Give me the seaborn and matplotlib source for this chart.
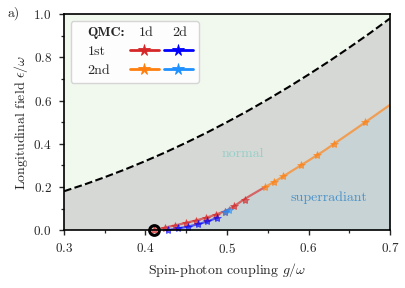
import numpy as np
import pandas as pd
import matplotlib
matplotlib.use("Agg")
import matplotlib.pyplot as plt
import seaborn as sns
from matplotlib.lines import Line2D
from matplotlib.patches import Rectangle
from matplotlib.text import Text
from matplotlib.legend_handler import HandlerBase
from matplotlib.ticker import MultipleLocator

# ---------------- data ----------------
# mean-field normal/superradiant limit (dashed)
dash_g = [0.300, 0.325, 0.350, 0.375, 0.400, 0.425, 0.450, 0.475, 0.500,
          0.525, 0.550, 0.575, 0.600, 0.625, 0.650, 0.675, 0.700]
dash_e = [0.180, 0.211, 0.245, 0.281, 0.320, 0.361, 0.405, 0.451, 0.500,
          0.551, 0.605, 0.661, 0.720, 0.781, 0.845, 0.911, 0.980]

# phase boundary: first-order part (red) and second-order part (orange)
first_g = [0.410, 0.420, 0.430, 0.440, 0.450, 0.460, 0.470, 0.480, 0.490,
           0.500, 0.510, 0.520, 0.530, 0.540, 0.547]
first_e = [0.000, 0.008, 0.017, 0.025, 0.034, 0.043, 0.053, 0.064, 0.077,
           0.092, 0.114, 0.140, 0.163, 0.185, 0.200]
second_g = [0.547, 0.560, 0.580, 0.600, 0.620, 0.640, 0.660, 0.680, 0.700]
second_e = [0.200, 0.228, 0.275, 0.322, 0.370, 0.422, 0.474, 0.527, 0.580]

# QMC points
red_g = [0.410, 0.424, 0.436, 0.450, 0.462, 0.474, 0.487, 0.497, 0.509, 0.522]
red_e = [0.000, 0.011, 0.020, 0.034, 0.044, 0.055, 0.069, 0.085, 0.112, 0.140]
orange_g = [0.547, 0.558, 0.569, 0.591, 0.611, 0.631, 0.669]
orange_e = [0.200, 0.224, 0.250, 0.301, 0.350, 0.399, 0.499]
blue_g = [0.428, 0.440, 0.452, 0.464, 0.476, 0.488]
blue_e = [0.000, 0.008, 0.016, 0.027, 0.040, 0.057]
lblue_g = [0.497, 0.502]
lblue_e = [0.083, 0.091]

crit_g = [0.410]
crit_e = [0.000]

region_labels = ["normal", "superradiant"]
legend_rows = ["QMC:", "1st", "2nd"]
legend_cols = ["1d", "2d"]

# ---------------- style ----------------
FS = 10
TFS = 9.5
sns.set_style("ticks")
plt.rcParams["font.family"] = ["cmr10", "DejaVu Serif"]
plt.rcParams["mathtext.fontset"] = "cm"
plt.rcParams["axes.formatter.use_mathtext"] = True
plt.rcParams["axes.unicode_minus"] = False
plt.rcParams["font.size"] = FS
plt.rcParams["axes.linewidth"] = 1.2
plt.rcParams["axes.edgecolor"] = "black"

fig = plt.figure(figsize=(4.05, 2.88), dpi=100)
ax = fig.add_axes([0.158, 0.201, 0.805, 0.750])

C_GREEN = "#f1f8ee"
C_GRAY = "#d6d8d5"
C_SR = "#c8d3d6"
ax.set_facecolor(C_GRAY)
ax.fill_between(dash_g, dash_e, 1.0, color=C_GREEN, lw=0, zorder=0)
ax.fill_between(first_g, 0, first_e, color=C_SR, lw=0, zorder=0)
ax.fill_between(second_g, 0, second_e, color=C_SR, lw=0, zorder=0)

dash_df = pd.DataFrame({"g": dash_g, "e": dash_e})
sns.lineplot(data=dash_df, x="g", y="e", ax=ax, color="black", lw=1.5,
             linestyle="--", sort=False, zorder=2)

RED, ORANGE, BLUE, LBLUE = "#d62728", "#ff7f0e", "#0000ff", "#1e90ff"
MK = "*"

sns.lineplot(x=first_g, y=first_e, ax=ax, color=RED, alpha=0.65, lw=1.6,
             sort=False, zorder=3)
sns.lineplot(x=second_g, y=second_e, ax=ax, color=ORANGE, alpha=0.65, lw=1.6,
             sort=False, zorder=3)
sns.lineplot(x=blue_g, y=blue_e, ax=ax, color=BLUE, alpha=0.6, lw=1.6,
             sort=False, zorder=3)

mk = dict(marker=MK, ms=6, mew=0.6)
ax.plot(red_g, red_e, ls="none", color=RED, alpha=0.65, zorder=4,
        clip_on=False, **mk)
ax.plot(orange_g, orange_e, ls="none", color=ORANGE, alpha=0.65, zorder=4,
        **mk)
ax.plot(blue_g, blue_e, ls="none", color=BLUE, alpha=0.6, zorder=4,
        clip_on=False, **mk)
ax.plot(lblue_g, lblue_e, ls="-", lw=1.6, color=LBLUE, alpha=0.6, zorder=4,
        **mk)
ax.plot(crit_g, crit_e, ls="none", marker="o", ms=7, mew=2.2, mfc="none",
        mec="black", zorder=6, clip_on=False)

ax.text(0.520, 0.352, region_labels[0], color="#93d0c8", ha="center",
        va="center", fontsize=FS)
ax.text(0.625, 0.150, region_labels[1], color="#4a92c8", ha="center",
        va="center", fontsize=FS)

ax.set_xlim(0.3, 0.7)
ax.set_ylim(0.0, 1.0)
ax.xaxis.set_major_locator(MultipleLocator(0.1))
ax.xaxis.set_minor_locator(MultipleLocator(0.05))
ax.yaxis.set_major_locator(MultipleLocator(0.2))
ax.yaxis.set_minor_locator(MultipleLocator(0.1))
ax.tick_params(which="major", direction="out", length=3.8, width=1.0,
               labelsize=TFS, pad=5)
ax.tick_params(which="minor", direction="out", length=2.5, width=0.9)
for s in ax.spines.values():
    s.set_visible(True)
    s.set_linewidth(1.2)
    s.set_zorder(5)
ax.set_xlabel(r"Spin-photon coupling $g/\omega$", fontsize=FS, labelpad=3)
ax.set_ylabel(r"Longitudinal field $\epsilon/\omega$", fontsize=FS,
              labelpad=2)

fig.text(14 / 405, 1 - 13 / 288, "a)", ha="center", va="center", fontsize=FS)


# ---------------- legend ----------------
class Blank:
    pass


class Header:
    def __init__(self, text):
        self.text = text


class BlankHandler(HandlerBase):
    def legend_artist(self, legend, orig_handle, fontsize, handlebox):
        handlebox.width = 0.8 * fontsize
        r = Rectangle((0, 0), 0, 0, visible=False)
        handlebox.add_artist(r)
        return r


class HeaderHandler(HandlerBase):
    def legend_artist(self, legend, orig_handle, fontsize, handlebox):
        w = handlebox.width
        t = Text(w * 0.55 - handlebox.xdescent, 0.0,
                 orig_handle.text, ha="center", va="baseline",
                 fontsize=fontsize, family="cmr10")
        handlebox.add_artist(t)
        return t


def proxy(c):
    return Line2D([], [], color=c, lw=2.0, marker=MK, ms=8.5, mew=0.6)


b0, b1, b2 = Blank(), Blank(), Blank()
h1, h2 = Header(legend_cols[0]), Header(legend_cols[1])
handles = [b0, b1, b2, h1, proxy(RED), proxy(ORANGE), h2, proxy(BLUE),
           proxy(LBLUE)]
labels = legend_rows + [""] * 6
leg = ax.legend(handles, labels, ncol=3, loc="upper left",
                handler_map={Blank: BlankHandler(), Header: HeaderHandler()},
                handlelength=2.1, handletextpad=0.0, columnspacing=0.35,
                labelspacing=0.45, borderpad=0.42, borderaxespad=0.48,
                frameon=True, fancybox=True, framealpha=0.85,
                edgecolor="#cfcfcf", facecolor="white", fontsize=FS)
leg.get_frame().set_linewidth(1.0)
leg.get_texts()[0].set_fontfamily("cmb10")
leg.set_zorder(10)

fig.savefig("out.png", dpi=100)
